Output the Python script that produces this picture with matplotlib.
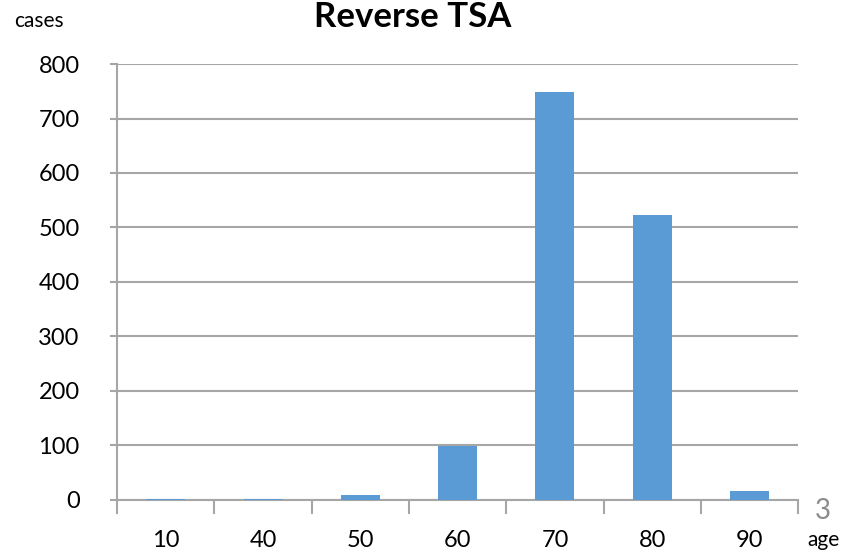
import numpy as np
import matplotlib
matplotlib.use('Agg')
import matplotlib.pyplot as plt

plt.rcParams['font.family'] = ['Lato', 'DejaVu Sans']

# age groups and number of cases
ages = ['10', '40', '50', '60', '70', '80', '90']
cases = [1, 1, 8, 98, 749, 522, 15]

bar_color = '#5B9BD5'
grid_color = '#A6A6A6'

fig = plt.figure(figsize=(8.42, 5.57), dpi=100)
ax = fig.add_axes([0.139, 0.103, 0.809, 0.782])

x = np.arange(len(ages))
ax.bar(x, cases, width=0.4, color=bar_color, zorder=3)

ax.set_xlim(-0.5, len(ages) - 0.5)
ax.set_ylim(0, 800)
ax.set_yticks(np.arange(0, 801, 100))
ax.yaxis.grid(True, color=grid_color, linewidth=1.5, zorder=0)

# ticks between categories, labels centred under bars
ax.set_xticks(np.arange(-0.5, len(ages)), minor=False)
ax.set_xticklabels([])
ax.set_xticks(x, minor=True)
ax.set_xticklabels(ages, minor=True)
ax.tick_params(axis='x', which='major', length=10, width=1.5, color=grid_color)
ax.tick_params(axis='x', which='minor', length=0, labelsize=17, pad=22)
ax.tick_params(axis='y', length=5, width=1.5, color=grid_color, labelsize=17, pad=22)

for side in ['top', 'right']:
    ax.spines[side].set_visible(False)
for side in ['left', 'bottom']:
    ax.spines[side].set_color(grid_color)
    ax.spines[side].set_linewidth(1.5)

fig.text(0.49, 0.998, 'Reverse TSA', ha='center', va='top', fontsize=25, fontweight='bold')
fig.text(0.017, 0.963, 'cases', ha='left', va='center', fontsize=15)
fig.text(0.959, 0.030, 'age', ha='left', va='center', fontsize=15)
fig.text(0.977, 0.083, '3', ha='center', va='center', fontsize=20, color='#8C8C8C')

fig.savefig('out.png', dpi=100)
